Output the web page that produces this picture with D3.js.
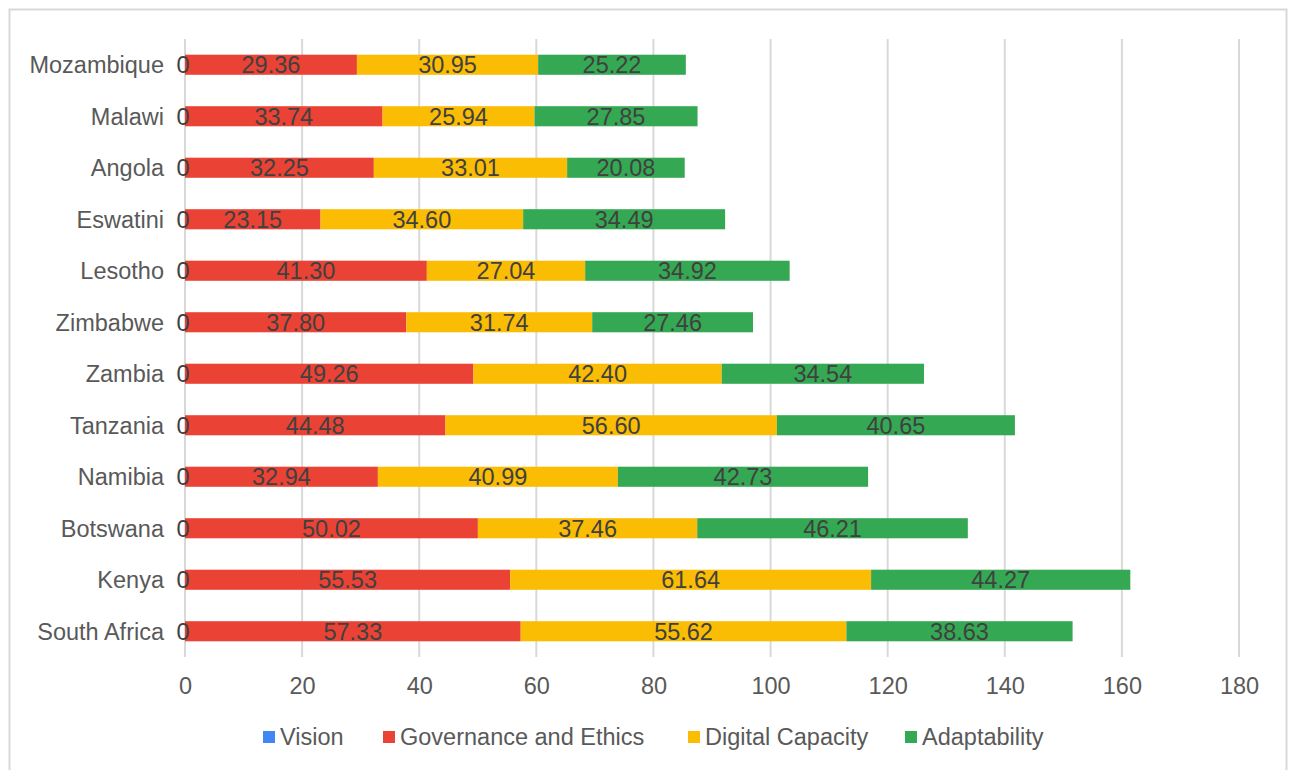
<!DOCTYPE html>
<html>
<head>
<meta charset="utf-8">
<script src="https://cdn.jsdelivr.net/npm/d3@7"></script>
<style>
  body { margin: 0; background: #fff; }
  text { font-family: "Liberation Sans", Arial, sans-serif; }
</style>
</head>
<body>
<div id="chart"></div>
<script>
// data, top to bottom as shown
const countries = ["Mozambique", "Malawi", "Angola", "Eswatini", "Lesotho", "Zimbabwe",
    "Zambia", "Tanzania", "Namibia", "Botswana", "Kenya", "South Africa"];
const seriesNames = ["Vision", "Governance and Ethics", "Digital Capacity", "Adaptability"];
const vision = [0, 0, 0, 0, 0, 0, 0, 0, 0, 0, 0, 0];
const governance = [29.36, 33.74, 32.25, 23.15, 41.30, 37.80, 49.26, 44.48, 32.94, 50.02, 55.53, 57.33];
const digital = [30.95, 25.94, 33.01, 34.60, 27.04, 31.74, 42.40, 56.60, 40.99, 37.46, 61.64, 55.62];
const adapt = [25.22, 27.85, 20.08, 34.49, 34.92, 27.46, 34.54, 40.65, 42.73, 46.21, 44.27, 38.63];
const xTicks = [0, 20, 40, 60, 80, 100, 120, 140, 160, 180];
const colors = ["#4285F4", "#EA4335", "#FBBC04", "#34A853"];

const width = 1291, height = 770;
const fontSize = "23.5px";

const svg = d3.select("#chart").append("svg")
    .attr("width", width)
    .attr("height", height);

// outer frame (bottom edge falls outside the picture)
svg.append("rect")
    .attr("x", 9.5).attr("y", 9.5)
    .attr("width", 1277).attr("height", 800)
    .attr("fill", "none")
    .attr("stroke", "#d9d9d9")
    .attr("stroke-width", 2);

const rows = countries.map((c, i) => ({
    country: c,
    Vision: vision[i],
    "Governance and Ethics": governance[i],
    "Digital Capacity": digital[i],
    "Adaptability": adapt[i]
}));

const stacked = d3.stack().keys(seriesNames)(rows);

const x = d3.scaleLinear().domain([0, 180]).range([185, 1239]);
const y = d3.scaleBand().domain(countries).range([39, 657]).paddingInner(0.61).paddingOuter(0.305);

// gridlines
svg.append("g")
    .selectAll("line")
    .data(xTicks)
    .join("line")
    .attr("x1", d => x(d)).attr("x2", d => x(d))
    .attr("y1", 39).attr("y2", 657)
    .attr("stroke", "#d9d9d9")
    .attr("stroke-width", 2);

// bars
svg.append("g")
    .selectAll("g")
    .data(stacked)
    .join("g")
    .attr("fill", (d, i) => colors[i])
    .selectAll("rect")
    .data(d => d)
    .join("rect")
    .attr("x", d => x(d[0]))
    .attr("width", d => x(d[1]) - x(d[0]))
    .attr("y", d => y(d.data.country))
    .attr("height", y.bandwidth());

// data labels, on top of all bars
const labelLayers = svg.append("g")
    .selectAll("g")
    .data(stacked)
    .join("g");

labelLayers.each(function (s) {
    d3.select(this).selectAll("text")
        .data(s)
        .join("text")
        .attr("x", d => s.key === "Vision" ? x(d[0]) - 2 : (x(d[0]) + x(d[1])) / 2)
        .attr("y", d => y(d.data.country) + y.bandwidth() / 2)
        .attr("dy", "0.36em")
        .attr("text-anchor", "middle")
        .attr("fill", "#404040")
        .style("font-size", fontSize)
        .text(d => s.key === "Vision" ? "0" : (d[1] - d[0]).toFixed(2));
});

// category axis
const yAxis = svg.append("g")
    .attr("transform", "translate(164,0)")
    .call(d3.axisLeft(y).tickSize(0).tickPadding(0));
yAxis.select(".domain").remove();
yAxis.selectAll("text")
    .attr("fill", "#595959")
    .style("font-size", fontSize)
    .attr("dy", "0.36em");

// value axis
const xAxis = svg.append("g")
    .attr("transform", "translate(0,686)")
    .call(d3.axisBottom(x).tickValues(xTicks).tickSize(0).tickPadding(0));
xAxis.select(".domain").remove();
xAxis.selectAll("text")
    .attr("fill", "#595959")
    .style("font-size", fontSize)
    .attr("dy", "0.36em");

// legend
const legendX = [263, 383, 688, 905];
const legend = svg.append("g")
    .selectAll("g")
    .data(seriesNames)
    .join("g")
    .attr("transform", (d, i) => `translate(${legendX[i]},737)`);
legend.append("rect")
    .attr("x", 0).attr("y", -6)
    .attr("width", 12).attr("height", 12)
    .attr("fill", (d, i) => colors[i]);
legend.append("text")
    .attr("x", 17)
    .attr("dy", "0.36em")
    .attr("fill", "#595959")
    .style("font-size", fontSize)
    .text(d => d);
</script>
</body>
</html>
